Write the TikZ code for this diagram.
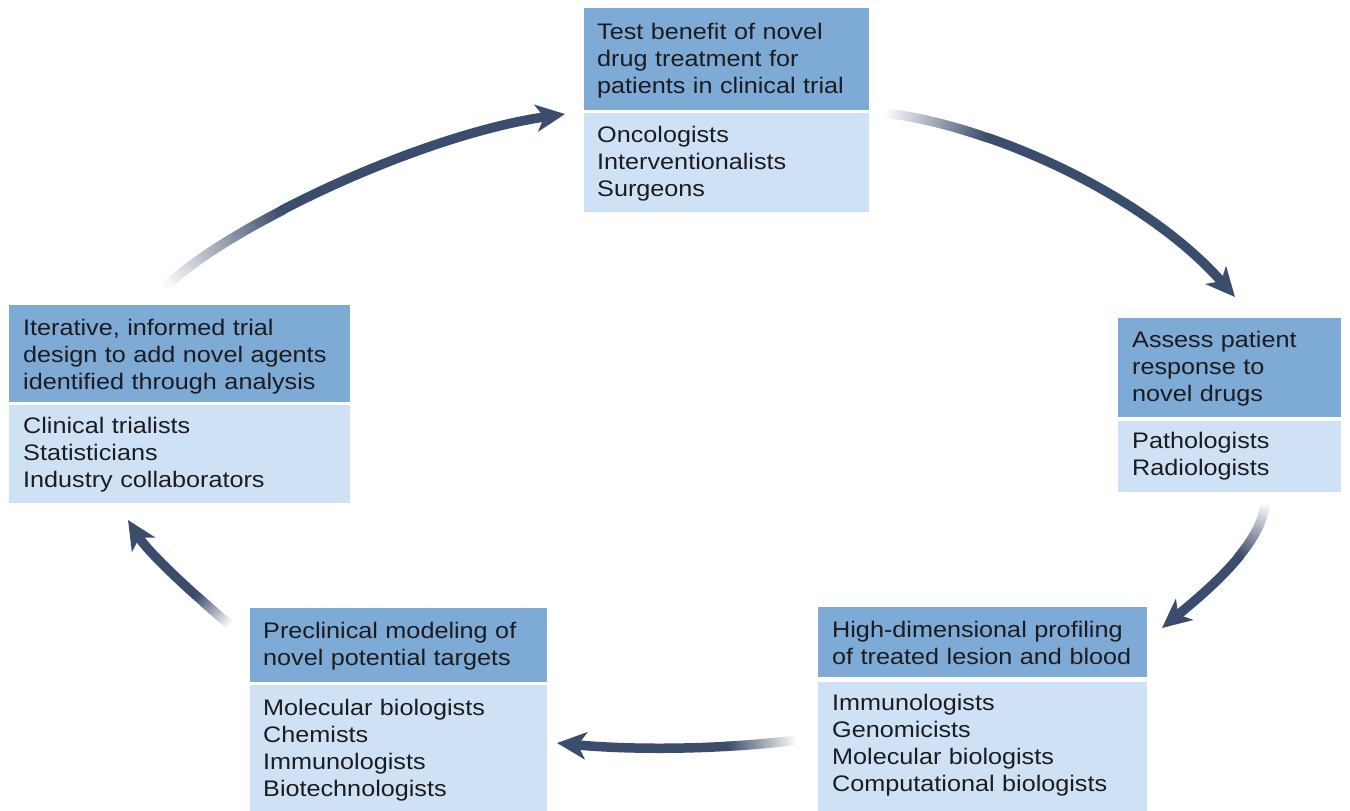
\documentclass[tikz,border=0pt]{standalone}
\usepackage{fontspec}
\setmainfont[FakeStretch=1.12]{Liberation Sans}
\usetikzlibrary{arrows.meta,decorations.markings}

\definecolor{hdrblue}{RGB}{126,170,214}
\definecolor{bodyblue}{RGB}{207,226,245}
\definecolor{arrownavy}{RGB}{59,77,108}
\definecolor{inkdark}{RGB}{28,28,32}

\tikzset{
  hdrfill/.style={fill=hdrblue},
  bodyfill/.style={fill=bodyblue},
  boxtext/.style={anchor=base west, inner sep=0pt, align=left, text=inkdark,
                  font=\fontsize{22.5}{27}\selectfont},
  cycarrow/.style={draw=arrownavy, line width=9.5pt,
                   -{Stealth[length=29pt,width=27pt,inset=8pt]}},
}

% curved arrow whose first #5 pt fade from white into the arrow colour
\newcommand\fadedarrow[5]{%
  \draw[cycarrow, dash pattern=on 0pt off #5pt on 4000pt]
    (#1) .. controls (#2) and (#3) .. (#4);
  \path[decorate, decoration={markings,
      mark=between positions 0pt and #5pt step 2pt with {%
        \pgfmathsetmacro\fadepc{min(100,100*\pgfkeysvalueof{/pgf/decoration/mark info/distance from start}/#5)}%
        \fill[arrownavy!\fadepc!white] (-1.3pt,-4.75pt) rectangle (1.3pt,4.75pt);}}]
    (#1) .. controls (#2) and (#3) .. (#4);
}

\begin{document}
\begin{tikzpicture}[x=1pt,y=-1pt]
\useasboundingbox (0,0) rectangle (1350,811);

% ---- boxes ----
% clinical trial
\fill[hdrfill]  (584,8)   rectangle (869,110);
\fill[bodyfill] (584,113) rectangle (869,212);
\node[boxtext, text width=265pt] (trialhead) at (597,39)
  {Test benefit of novel\\drug treatment for\\patients in clinical trial};
\node[boxtext, text width=265pt] (trialteam) at (597,142)
  {Oncologists\\Interventionalists\\Surgeons};

% response assessment
\fill[hdrfill]  (1118,318) rectangle (1341,417);
\fill[bodyfill] (1118,421) rectangle (1341,492);
\node[boxtext, text width=205pt] (assesshead) at (1132,347)
  {Assess patient\\response to\\novel drugs};
\node[boxtext, text width=205pt] (assessteam) at (1132,448)
  {Pathologists\\Radiologists};

% profiling
\fill[hdrfill]  (818,607) rectangle (1147,677);
\fill[bodyfill] (818,682) rectangle (1147,811);
\node[boxtext, text width=310pt] (profilehead) at (832,637)
  {High-dimensional profiling\\of treated lesion and blood};
\node[boxtext, text width=310pt] (profileteam) at (832,710)
  {Immunologists\\Genomicists\\Molecular biologists\\Computational biologists};

% preclinical modeling
\fill[hdrfill]  (250,608) rectangle (547,682);
\fill[bodyfill] (250,685) rectangle (547,811);
\node[boxtext, text width=280pt] (modelhead) at (263,638)
  {Preclinical modeling of\\novel potential targets};
\node[boxtext, text width=280pt] (modelteam) at (263,715)
  {Molecular biologists\\Chemists\\Immunologists\\Biotechnologists};

% trial design
\fill[hdrfill]  (9,305) rectangle (350,402);
\fill[bodyfill] (9,405) rectangle (350,503);
\node[boxtext, text width=320pt] (designhead) at (23,335)
  {Iterative, informed trial\\design to add novel agents\\identified through analysis};
\node[boxtext, text width=320pt] (designteam) at (23,433)
  {Clinical trialists\\Statisticians\\Industry collaborators};

% ---- cycle arrows ----
\coordinate (a1s) at (165,287);  \coordinate (a1c1) at (230,225);
\coordinate (a1c2) at (420,135); \coordinate (a1e) at (565,114);
\coordinate (a2s) at (885,113);  \coordinate (a2c1) at (1000,127);
\coordinate (a2c2) at (1150,200); \coordinate (a2e) at (1235,297);
\coordinate (a3s) at (1265,503); \coordinate (a3c1) at (1262,545);
\coordinate (a3c2) at (1208,590); \coordinate (a3e) at (1162,628);
\coordinate (a4s) at (797,740);  \coordinate (a4c1) at (720,750);
\coordinate (a4c2) at (630,750); \coordinate (a4e) at (557,743);
\coordinate (a5s) at (230,625);  \coordinate (a5c1) at (200,600);
\coordinate (a5c2) at (150,555); \coordinate (a5e) at (128,520);

\fadedarrow{a1s}{a1c1}{a1c2}{a1e}{140}
\fadedarrow{a2s}{a2c1}{a2c2}{a2e}{105}
\fadedarrow{a3s}{a3c1}{a3c2}{a3e}{60}
\fadedarrow{a4s}{a4c1}{a4c2}{a4e}{70}
\fadedarrow{a5s}{a5c1}{a5c2}{a5e}{45}
\end{tikzpicture}
\end{document}
